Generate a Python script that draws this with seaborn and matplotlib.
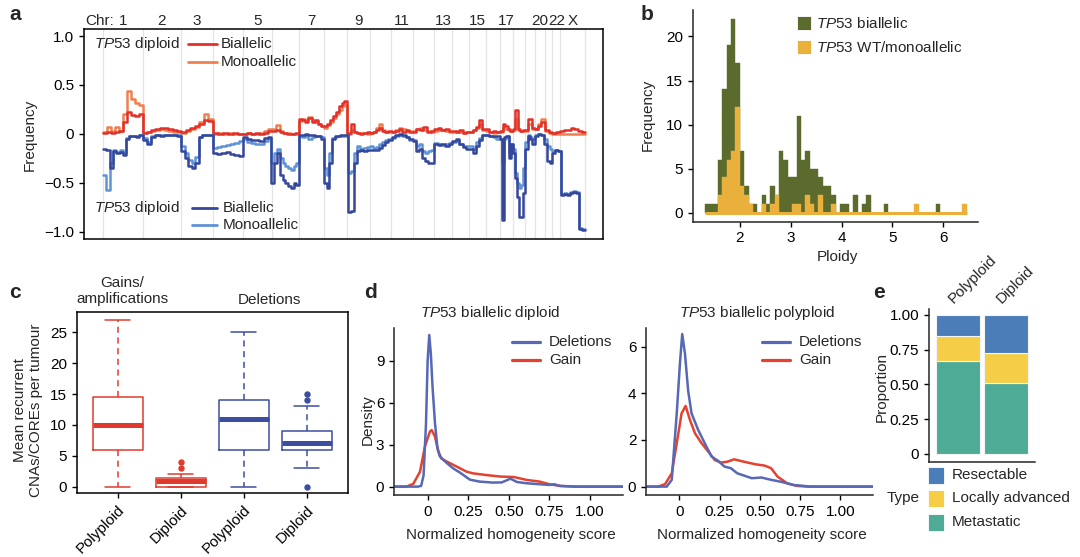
import numpy as np
import pandas as pd
import matplotlib
matplotlib.use('Agg')
import matplotlib.pyplot as plt
import matplotlib.transforms as mtransforms
from matplotlib.lines import Line2D
from matplotlib.patches import Rectangle
import seaborn as sns

sns.set_theme(style='ticks')
plt.rcParams['font.family'] = ['Liberation Sans', 'DejaVu Sans']
plt.rcParams['mathtext.fontset'] = 'custom'
plt.rcParams['mathtext.rm'] = 'Liberation Sans'
plt.rcParams['mathtext.it'] = 'Liberation Sans:italic'
plt.rcParams['axes.linewidth'] = 1.1
plt.rcParams['xtick.major.width'] = 1.0
plt.rcParams['ytick.major.width'] = 1.0
plt.rcParams['xtick.major.size'] = 3.5
plt.rcParams['ytick.major.size'] = 3.5
plt.rcParams['xtick.labelsize'] = 11
plt.rcParams['ytick.labelsize'] = 11
plt.rcParams['xtick.color'] = 'black'
plt.rcParams['ytick.color'] = 'black'

FS = 11

# ---------------- DATA ----------------
# panel a
chrom_len_mb = [249, 243, 198, 191, 181, 171, 159, 146, 141, 136, 135, 134,
                115, 107, 103, 90, 81, 78, 59, 63, 48, 51, 155]
chrom_names = ['1', '2', '3', '4', '5', '6', '7', '8', '9', '10', '11', '12',
               '13', '14', '15', '16', '17', '18', '19', '20', '21', '22', 'X']
chrom_shown = ['1', '2', '3', '5', '7', '9', '11', '13', '15', '17', '20', '22', 'X']

gain_biallelic = [
    [0.01, 0.02, 0.01, 0.02, 0.03, 0.12, 0.22, 0.19, 0.18, 0.20],
    [0.01, 0.02, 0.04, 0.05, 0.06, 0.06, 0.05, 0.04, 0.03],
    [0.02, 0.04, 0.06, 0.08, 0.10, 0.14, 0.13],
    [0.01, 0.00, 0.01, 0.00, 0.01, 0.00],
    [0.00, 0.01, 0.00, 0.01, 0.00, 0.01, 0.03],
    [0.03, 0.04, 0.02, 0.01, 0.00, 0.00, 0.01],
    [0.15, 0.14, 0.12, 0.16, 0.12, 0.14, 0.10, 0.08],
    [0.08, 0.10, 0.14, 0.18, 0.22, 0.28, 0.32, 0.34],
    [0.01, 0.10, 0.02, 0.01, 0.00, 0.01, 0.02],
    [0.01, 0.02, 0.04, 0.06, 0.03, 0.02, 0.03],
    [0.02, 0.03, 0.05, 0.02, 0.04, 0.02],
    [0.02, 0.05, 0.04, 0.07, 0.02, 0.03],
    [0.05, 0.06, 0.04, 0.05, 0.03],
    [0.03, 0.02, 0.04, 0.01, 0.02],
    [0.02, 0.04, 0.07, 0.14, 0.05],
    [0.05, 0.02, 0.03, 0.02],
    [0.03, 0.10, 0.08, 0.05, 0.03],
    [0.05, 0.24, 0.05, 0.03, 0.04],
    [0.04, 0.15, 0.06],
    [0.05, 0.08, 0.12],
    [0.04, 0.02],
    [0.01, 0.02],
    [0.03, 0.04, 0.04, 0.06, 0.05, 0.03, 0.02],
]
gain_monoallelic = [
    [0.02, 0.07, 0.03, 0.07, 0.03, 0.20, 0.44, 0.36, 0.32, 0.30],
    [0.01, 0.02, 0.03, 0.04, 0.05, 0.04, 0.03, 0.02, 0.02],
    [0.01, 0.03, 0.05, 0.07, 0.12, 0.20, 0.15],
    [0.00, 0.01, 0.00, 0.01, 0.00, 0.00],
    [0.00, 0.01, 0.00, 0.00, 0.01, 0.03, 0.05],
    [0.05, 0.09, 0.03, 0.01, 0.01, 0.00, 0.00],
    [0.13, 0.15, 0.14, 0.17, 0.14, 0.12, 0.10, 0.08],
    [0.06, 0.09, 0.12, 0.16, 0.20, 0.24, 0.28, 0.30],
    [0.00, 0.04, 0.02, 0.01, 0.01, 0.01, 0.00],
    [0.01, 0.02, 0.06, 0.10, 0.04, 0.02, 0.02],
    [0.02, 0.04, 0.06, 0.05, 0.03, 0.03],
    [0.03, 0.05, 0.06, 0.04, 0.03, 0.02],
    [0.03, 0.04, 0.04, 0.03, 0.02],
    [0.02, 0.03, 0.02, 0.01, 0.02],
    [0.02, 0.04, 0.06, 0.10, 0.04],
    [0.03, 0.02, 0.01, 0.02],
    [0.02, 0.06, 0.05, 0.04, 0.03],
    [0.04, 0.15, 0.04, 0.03, 0.03],
    [0.03, 0.10, 0.05],
    [0.05, 0.10, 0.15],
    [0.03, 0.01],
    [0.00, 0.00],
    [0.00, 0.00, 0.00, 0.00, 0.00, 0.00, 0.00],
]
loss_biallelic = [
    [-0.15, -0.17, -0.35, -0.18, -0.20, -0.19, -0.22, -0.05, -0.02, -0.02, -0.03, -0.01],
    [-0.06, -0.10, -0.03, -0.01, -0.02, -0.01, -0.01, -0.01, -0.02],
    [-0.18, -0.25, -0.33, -0.35, -0.30, -0.03, -0.01, -0.01, -0.01],
    [-0.20, -0.21, -0.20, -0.19, -0.21, -0.22, -0.23],
    [-0.03, -0.05, -0.06, -0.06, -0.07, -0.04, -0.03],
    [-0.50, -0.30, -0.20, -0.42, -0.47, -0.50, -0.53, -0.55, -0.50, -0.52],
    [-0.01, -0.01, 0.00, -0.01, -0.01, -0.02, -0.02, -0.05],
    [-0.50, -0.55, -0.30, -0.05, -0.02, -0.02, -0.01, -0.01, -0.01],
    [-0.80, -0.79, -0.30, -0.18, -0.17, -0.18, -0.17],
    [-0.17, -0.16, -0.17, -0.14, -0.11, -0.08, -0.06],
    [-0.03, -0.01, 0.00, -0.01, -0.03, -0.05],
    [-0.07, -0.18, -0.15, -0.25, -0.28, -0.30, -0.30],
    [-0.10, -0.11, -0.10, -0.12, -0.10],
    [-0.07, -0.05, -0.10, -0.13, -0.15],
    [-0.15, -0.20, -0.12, -0.06, -0.01],
    [-0.01, -0.02, -0.02, -0.02],
    [-0.05, -0.88, -0.03, -0.02, -0.25, -0.10],
    [-0.20, -0.45, -0.65, -0.85, -0.85, -0.60],
    [-0.15, -0.02, -0.05, -0.10],
    [-0.02, 0.00, -0.01],
    [-0.10, -0.28, -0.30],
    [-0.20, -0.17, -0.18],
    [-0.62, -0.61, -0.62, -0.60, -0.59, -0.60, -0.97, -0.98],
]
loss_monoallelic = [
    [-0.42, -0.57, -0.30, -0.17, -0.19, -0.17, -0.20, -0.04, -0.02, -0.02, -0.02, -0.01],
    [-0.04, -0.08, -0.02, -0.01, -0.01, -0.01, -0.01, -0.01, -0.01],
    [-0.12, -0.20, -0.27, -0.30, -0.24, -0.03, -0.01, -0.01, -0.01],
    [-0.14, -0.13, -0.12, -0.11, -0.10, -0.09, -0.07],
    [-0.05, -0.08, -0.09, -0.10, -0.10, -0.07, -0.04],
    [-0.30, -0.20, -0.15, -0.25, -0.30, -0.33, -0.35, -0.37, -0.33, -0.30],
    [-0.02, -0.03, -0.02, -0.05, -0.03, -0.02, -0.02, -0.03],
    [-0.35, -0.42, -0.20, -0.04, -0.03, -0.02, -0.02, -0.02, -0.02],
    [-0.40, -0.38, -0.20, -0.12, -0.15, -0.14, -0.13],
    [-0.12, -0.14, -0.13, -0.10, -0.08, -0.06, -0.05],
    [-0.04, -0.02, -0.01, -0.02, -0.03, -0.06],
    [-0.06, -0.12, -0.10, -0.18, -0.20, -0.18, -0.17],
    [-0.09, -0.10, -0.11, -0.10, -0.09],
    [-0.08, -0.06, -0.10, -0.12, -0.12],
    [-0.12, -0.15, -0.08, -0.04, -0.01],
    [-0.01, -0.02, -0.03, -0.05],
    [-0.05, -0.30, -0.05, -0.02, -0.20, -0.10],
    [-0.15, -0.40, -0.50, -0.55, -0.52, -0.35],
    [-0.08, -0.01, -0.03, -0.05],
    [-0.01, 0.00, -0.01],
    [-0.05, -0.12, -0.15],
    [-0.18, -0.17, -0.18],
    [-0.61, -0.60, -0.61, -0.59, -0.58, -0.59, -0.96, -0.97],
]

# panel b: ploidy histogram (60 bins, 1.31 - 6.46)
ploidy_range = (1.31, 6.46)
counts_biallelic = [1, 1, 1, 6, 14, 19, 22, 17, 7, 3,
                    1, 1, 0, 2, 1, 3, 2, 7, 6, 4,
                    4, 11, 6, 7, 5, 5, 4, 3, 3, 2,
                    0, 1, 1, 0, 2, 0, 1, 2, 0, 0,
                    0, 1, 0, 0, 0, 0, 0, 0, 0, 0,
                    0, 0, 0, 1, 0, 0, 0, 0, 0, 0]
counts_wt_mono = [0, 0, 0, 2, 4, 6, 7, 12, 3, 2,
                  1, 0, 0, 1, 0, 1, 2, 0, 0, 0,
                  1, 1, 0, 2, 1, 0, 2, 0, 0, 1,
                  0, 0, 0, 0, 0, 0, 0, 0, 0, 0,
                  0, 0, 0, 0, 0, 0, 0, 0, 1, 0,
                  0, 0, 0, 0, 0, 0, 0, 0, 0, 1]

# panel c: boxplot statistics
box_groups = ['Polyploid', 'Diploid', 'Polyploid', 'Diploid']
box_whislo = [0, 0, 0, 3]
box_q1 = [6, 0, 6, 6]
box_med = [10, 0.9, 11, 7]
box_q3 = [14.5, 1.35, 14, 9]
box_whishi = [27, 2, 25, 13]
box_fliers = [[], [3, 4], [], [0, 14, 15]]

# panel d: density curves
dip_del_x = [-0.2, -0.06, -0.04, -0.025, -0.01, 0.0, 0.01, 0.02, 0.03, 0.045, 0.06, 0.076, 0.117,
             0.158, 0.2, 0.26, 0.32, 0.4, 0.456, 0.51, 0.55, 0.61, 0.69, 0.75, 0.78, 0.815, 0.92, 1.2]
dip_del_y = [0, 0, 0.05, 0.8, 4.5, 9.0, 10.86, 9.5, 7.2, 4.6, 2.8, 2.15, 1.7,
             1.3, 1.0, 0.5, 0.36, 0.29, 0.3, 0.57, 0.33, 0.24, 0.17, 0.12, 0.17, 0.05, 0.0, 0]
dip_gain_x = [-0.2, -0.13, -0.088, -0.047, -0.016, 0.014, 0.025, 0.045, 0.066, 0.086, 0.117, 0.18,
              0.24, 0.28, 0.36, 0.45, 0.53, 0.61, 0.69, 0.75, 0.815, 0.9, 1.2]
dip_gain_y = [0, 0, 0.2, 1.07, 2.9, 3.94, 4.05, 3.6, 2.5, 2.0, 1.8, 1.43,
              1.07, 0.95, 0.83, 0.72, 0.69, 0.48, 0.36, 0.17, 0.05, 0, 0]
poly_del_x = [-0.2, -0.078, -0.047, -0.016, 0.004, 0.018, 0.035, 0.055, 0.076, 0.117, 0.158, 0.2,
              0.24, 0.28, 0.32, 0.36, 0.45, 0.51, 0.57, 0.63, 0.71, 0.815, 1.2]
poly_del_y = [0, 0, 0.29, 3.14, 5.3, 6.54, 5.7, 4.1, 3.14, 2.43, 1.86, 1.29,
              1.11, 0.86, 0.79, 0.57, 0.36, 0.39, 0.29, 0.21, 0.07, 0, 0]
poly_gain_x = [-0.2, -0.13, -0.088, -0.047, -0.016, 0.014, 0.039, 0.066, 0.097, 0.138, 0.18, 0.22,
               0.26, 0.30, 0.34, 0.40, 0.47, 0.53, 0.57, 0.61, 0.67, 0.73, 0.8, 1.2]
poly_gain_y = [0, 0, 0.11, 0.57, 1.86, 3.14, 3.46, 2.86, 2.29, 1.86, 1.5, 1.14,
               1.03, 1.07, 1.17, 1.07, 0.96, 0.9, 0.79, 0.43, 0.14, 0.03, 0, 0]

# panel e: proportions
e_groups = ['Polyploid', 'Diploid']
e_types = ['Resectable', 'Locally advanced', 'Metastatic']
prop_metastatic = [0.67, 0.51]
prop_locally_adv = [0.18, 0.22]
prop_resectable = [0.15, 0.27]

# ---------------- STYLE ----------------
RED, ORANGE = '#E3312A', '#EE8050'
DBLUE, LBLUE = '#34479D', '#5E93D6'
GREEN, YELLOW = '#5B6B2D', '#E9B13C'
BOX_RED, BOX_BLUE = '#E03A2E', '#3C4EA0'
D_BLUE, D_RED = '#5668B6', '#E4422F'
E_COLS = {'Resectable': '#4B7DB8', 'Locally advanced': '#F6CD47', 'Metastatic': '#4EAB96'}

W, H = 1080, 557
fig = plt.figure(figsize=(10.8, 5.57), dpi=100)


def rect(l, t, r, b):
    return [l / W, 1 - b / H, (r - l) / W, (b - t) / H]


def ftext(x, y, s, **kw):
    kw.setdefault('fontsize', FS)
    fig.text(x / W, 1 - y / H, s, **kw)


def fline(x0, x1, y, color, lw=2.0):
    fig.add_artist(Line2D([x0 / W, x1 / W], [1 - y / H, 1 - y / H], color=color, lw=lw,
                          transform=fig.transFigure))


def fsquare(x0, y0, x1, y1, color):
    fig.add_artist(Rectangle((x0 / W, 1 - y1 / H), (x1 - x0) / W, (y1 - y0) / H,
                             facecolor=color, edgecolor='white', lw=0.6,
                             transform=fig.transFigure))


# ---------------- PANEL A ----------------
axa = fig.add_axes(rect(84, 29.3, 603, 239.3))
starts = np.concatenate([[0], np.cumsum(chrom_len_mb)[:-1]])
gend = float(np.sum(chrom_len_mb))


def genome_xy(series):
    xs, ys = [0.0], [series[0][0]]
    for s, L, vals in zip(starts, chrom_len_mb, series):
        n = len(vals)
        for i, v in enumerate(vals):
            xs.append(s + (i + 0.5) / n * L)
            ys.append(v)
    xs.append(gend)
    ys.append(series[-1][-1])
    return np.array(xs), np.array(ys)


for b in list(starts) + [gend]:
    axa.axvline(b, color='#E4E4E4', lw=0.9, zorder=0)

for series, col in [(gain_monoallelic, ORANGE), (gain_biallelic, RED),
                    (loss_monoallelic, LBLUE), (loss_biallelic, DBLUE)]:
    xs, ys = genome_xy(series)
    sns.lineplot(x=xs, y=ys, ax=axa, color=col, lw=1.8, drawstyle='steps-mid',
                 estimator=None, sort=False)

axa.set_xlim(-120, gend + 113)
axa.set_ylim(-1.078, 1.069)
axa.set_yticks([1.0, 0.5, 0, -0.5, -1.0])
axa.set_yticklabels(['1.0', '0.5', '0', '\u22120.5', '\u22121.0'])
axa.set_xticks([])
axa.set_xlabel('')
axa.set_ylabel('')
for sp in axa.spines.values():
    sp.set_visible(True)
    sp.set_color('black')
trans_a = mtransforms.blended_transform_factory(axa.transData, axa.transAxes)
for name in chrom_shown:
    k = chrom_names.index(name)
    axa.text(starts[k] + chrom_len_mb[k] / 2, 1.04, name, transform=trans_a,
             ha='center', va='center', fontsize=FS)
ftext(114, 21, 'Chr:', ha='right', va='center')
ftext(30, 135, 'Frequency', rotation=90, ha='center', va='center')
ftext(94, 44, r'$\mathit{TP53}$ diploid', ha='left', va='center')
fline(188, 217, 44, RED)
fline(188, 217, 62, ORANGE)
ftext(221, 44, 'Biallelic', ha='left', va='center')
ftext(221, 62, 'Monoallelic', ha='left', va='center')
ftext(94, 208, r'$\mathit{TP53}$ diploid', ha='left', va='center')
fline(192, 217, 208, DBLUE)
fline(192, 217, 225, LBLUE)
ftext(223, 208, 'Biallelic', ha='left', va='center')
ftext(223, 225, 'Monoallelic', ha='left', va='center')
ftext(9, 15, 'a', fontsize=15, fontweight='bold', ha='left', va='center')

# ---------------- PANEL B ----------------
axb = fig.add_axes(rect(693, 10, 978, 221.7))
nb = len(counts_biallelic)
bw = (ploidy_range[1] - ploidy_range[0]) / nb
centers = ploidy_range[0] + bw * (np.arange(nb) + 0.5)
hist_df = pd.DataFrame({'ploidy': centers, 'biallelic': counts_biallelic,
                        'wt_mono': counts_wt_mono})
sns.histplot(data=hist_df, x='ploidy', weights='biallelic', bins=nb, binrange=ploidy_range,
             ax=axb, color=GREEN, alpha=1, edgecolor=GREEN, linewidth=0.3)
sns.histplot(data=hist_df, x='ploidy', weights='wt_mono', bins=nb, binrange=ploidy_range,
             ax=axb, color=YELLOW, alpha=1, edgecolor=YELLOW, linewidth=0.3)
axb.hlines(0, ploidy_range[0], ploidy_range[1], color=YELLOW, lw=2.2, zorder=3)
axb.set_xlim(1.075, 6.685)
axb.set_ylim(-1.02, 23.0)
axb.set_xticks([2, 3, 4, 5, 6])
axb.set_yticks([0, 5, 10, 15, 20])
axb.set_xlabel('')
axb.set_ylabel('')
sns.despine(ax=axb)
ftext(648, 115, 'Frequency', rotation=90, ha='center', va='center')
ftext(837, 257, 'Ploidy', ha='center', va='center')
fsquare(797, 16, 811, 30, GREEN)
fsquare(797, 40, 811, 54, YELLOW)
ftext(816, 23, r'$\mathit{TP53}$ biallelic', ha='left', va='center')
ftext(816, 47, r'$\mathit{TP53}$ WT/monoallelic', ha='left', va='center')
ftext(641, 15, 'b', fontsize=15, fontweight='bold', ha='left', va='center')

# ---------------- PANEL C ----------------
axc = fig.add_axes(rect(76.7, 312.3, 348.3, 493.3))
stats = []
for i in range(4):
    stats.append(dict(med=box_med[i], q1=box_q1[i], q3=box_q3[i], whislo=box_whislo[i],
                      whishi=box_whishi[i], fliers=np.array(box_fliers[i], dtype=float),
                      label=box_groups[i]))
for idx, col in [([0, 1], BOX_RED), ([2, 3], BOX_BLUE)]:
    axc.bxp([stats[i] for i in idx], positions=[i + 1 for i in idx], widths=0.8,
            capwidths=0.4,
            boxprops=dict(color=col, lw=1.1),
            whiskerprops=dict(color=col, lw=1.1, linestyle=(0, (4, 3))),
            capprops=dict(color=col, lw=1.1),
            medianprops=dict(color=col, lw=3.6, solid_capstyle='butt'),
            flierprops=dict(marker='o', markersize=3.6, markerfacecolor=col,
                            markeredgecolor=col))
axc.set_xlim(0.349, 4.66)
axc.set_ylim(-1.07, 28.24)
axc.set_yticks([0, 5, 10, 15, 20, 25])
axc.set_xticks([1, 2, 3, 4])
axc.set_xticklabels(box_groups, rotation=45, ha='right', rotation_mode='anchor')
for sp in axc.spines.values():
    sp.set_visible(True)
    sp.set_color('black')
ftext(122, 291, 'Gains/\namplifications', ha='center', va='center', linespacing=1.15)
ftext(269, 300, 'Deletions', ha='center', va='center')
ftext(28, 410, 'Mean recurrent\nCNAs/COREs per tumour', rotation=90, ha='center',
      va='center', linespacing=1.15, multialignment='center')
ftext(9, 293, 'c', fontsize=15, fontweight='bold', ha='left', va='center')


# ---------------- PANEL D ----------------
def dpanel(l, r, ymax, ymin, yt, dx, dy, gx, gy, title, lx, tx):
    ax = fig.add_axes(rect(l, 328, r, 495))
    sns.lineplot(x=gx, y=gy, ax=ax, color=D_RED, lw=1.8, estimator=None, sort=False)
    sns.lineplot(x=dx, y=dy, ax=ax, color=D_BLUE, lw=1.8, estimator=None, sort=False)
    ax.set_xlim(-0.207, 1.2)
    ax.set_ylim(ymin, ymax)
    ax.set_yticks(yt)
    ax.set_xticks([0, 0.25, 0.5, 0.75, 1.0])
    ax.set_xticklabels(['0', '0.25', '0.50', '0.75', '1.00'])
    ax.set_xlabel('')
    ax.set_ylabel('')
    sns.despine(ax=ax)
    cx = (l + r) / 2
    ftext(tx, 313, title, ha='center', va='center')
    ftext(cx + 3, 535, 'Normalized homogeneity score', ha='center', va='center')
    fline(lx, lx + 28, 342, D_BLUE, lw=2.3)
    fline(lx, lx + 28, 360, D_RED, lw=2.3)
    ftext(lx + 37, 342, 'Deletions', ha='left', va='center')
    ftext(lx + 37, 360, 'Gain', ha='left', va='center')
    return ax


axd1 = dpanel(394, 622.5, 11.36, -0.6, [0, 3, 6, 9], dip_del_x, dip_del_y,
              dip_gain_x, dip_gain_y, r'$\mathit{TP53}$ biallelic diploid', 512, 490)
axd2 = dpanel(646, 872.5, 6.8, -0.36, [0, 2, 4, 6], poly_del_x, poly_del_y,
              poly_gain_x, poly_gain_y, r'$\mathit{TP53}$ biallelic polyploid', 762, 757)
ftext(368, 420, 'Density', rotation=90, ha='center', va='center')
ftext(364, 293, 'd', fontsize=15, fontweight='bold', ha='left', va='center')

# ---------------- PANEL E ----------------
axe = fig.add_axes(rect(929, 309, 1035, 462))
xpos = np.arange(1, len(e_groups) + 1)
bottom = np.zeros(len(e_groups))
for name, vals in [('Metastatic', prop_metastatic), ('Locally advanced', prop_locally_adv),
                   ('Resectable', prop_resectable)]:
    axe.bar(xpos, vals, width=0.9, bottom=bottom, color=E_COLS[name], edgecolor='#F4F4F4',
            lw=0.8)
    bottom = bottom + np.array(vals)
axe.set_xlim(0.4, 2.6)
axe.set_ylim(-0.0576, 1.043)
axe.set_yticks([0, 0.25, 0.5, 0.75, 1.0])
axe.set_yticklabels(['0', '0.25', '0.50', '0.75', '1.00'])
axe.set_xticks([])
sns.despine(ax=axe)
trans_e = mtransforms.blended_transform_factory(axe.transData, axe.transAxes)
for xp, g in zip(xpos, e_groups):
    axe.text(xp - 0.05, 1.02, g, transform=trans_e, rotation=45, ha='left', va='bottom',
             rotation_mode='anchor', fontsize=FS)
ftext(882, 387, 'Proportion', rotation=90, ha='center', va='center')
ftext(887, 498, 'Type', ha='left', va='center')
for yy, name in zip([475, 498, 522], e_types):
    fsquare(928, yy - 8.5, 944, yy + 8.5, E_COLS[name])
    ftext(952, yy, name, ha='left', va='center')
ftext(873, 293, 'e', fontsize=15, fontweight='bold', ha='left', va='center')

fig.savefig('out.png', dpi=100)
